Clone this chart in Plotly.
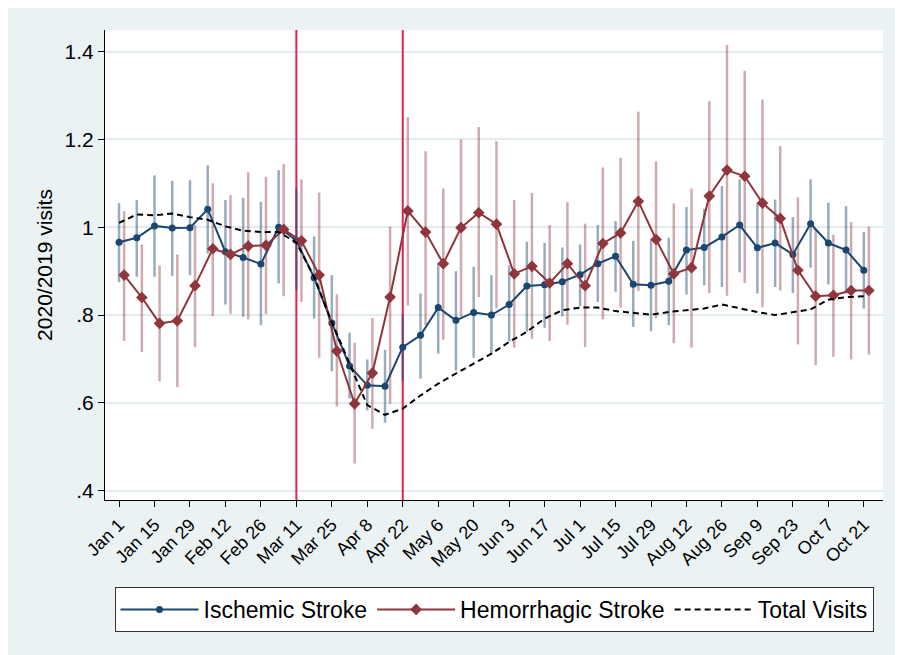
import pandas as pd
import plotly.graph_objects as go

# ---------------- data ----------------
WEEK_START = "2020-01-01"
N_WEEKS = 43
weeks = pd.date_range(WEEK_START, periods=N_WEEKS, freq="7D")
hem_shift = pd.Timedelta(days=2)  # hemorrhagic series drawn slightly offset

tick_labels = ["Jan 1", "Jan 15", "Jan 29", "Feb 12", "Feb 26", "Mar 11", "Mar 25",
               "Apr 8", "Apr 22", "May 6", "May 20", "Jun 3", "Jun 17", "Jul 1",
               "Jul 15", "Jul 29", "Aug 12", "Aug 26", "Sep 9", "Sep 23", "Oct 7", "Oct 21"]
tick_dates = weeks[::2]

event_dates = ["2020-03-11", "2020-04-22"]

ischemic = [0.966, 0.976, 1.003, 0.998, 0.999, 1.041, 0.944, 0.931, 0.916, 1.000,
            0.970, 0.885, 0.782, 0.684, 0.640, 0.638, 0.727, 0.754, 0.817, 0.788,
            0.806, 0.800, 0.824, 0.866, 0.869, 0.876, 0.892, 0.917, 0.934, 0.870,
            0.868, 0.877, 0.948, 0.954, 0.978, 1.005, 0.953, 0.964, 0.938, 1.008,
            0.964, 0.948, 0.902]
ischemic_lo = [0.875, 0.887, 0.887, 0.889, 0.891, 0.940, 0.824, 0.796, 0.777, 0.872,
               0.857, 0.792, 0.672, 0.610, 0.583, 0.555, 0.650, 0.655, 0.712, 0.674,
               0.703, 0.712, 0.740, 0.762, 0.771, 0.797, 0.820, 0.830, 0.853, 0.773,
               0.763, 0.777, 0.847, 0.868, 0.864, 0.897, 0.849, 0.864, 0.850, 0.908,
               0.870, 0.849, 0.815]
ischemic_hi = [1.055, 1.062, 1.118, 1.106, 1.107, 1.141, 1.062, 1.067, 1.058, 1.130,
               1.088, 0.979, 0.891, 0.760, 0.699, 0.721, 0.803, 0.849, 0.919, 0.900,
               0.910, 0.891, 0.913, 0.967, 0.964, 0.954, 0.961, 1.005, 1.014, 0.969,
               0.972, 0.976, 1.046, 1.042, 1.094, 1.109, 1.055, 1.063, 1.023, 1.109,
               1.056, 1.048, 0.989]

hemorrhagic = [0.891, 0.840, 0.781, 0.787, 0.867, 0.951, 0.938, 0.957, 0.959, 0.995,
               0.969, 0.891, 0.718, 0.598, 0.668, 0.841, 1.037, 0.989, 0.917, 0.999,
               1.033, 1.007, 0.894, 0.911, 0.873, 0.917, 0.867, 0.963, 0.987, 1.059,
               0.972, 0.894, 0.908, 1.071, 1.130, 1.116, 1.055, 1.020, 0.902, 0.843,
               0.845, 0.856, 0.856]
hemorrhagic_lo = [0.741, 0.716, 0.649, 0.636, 0.727, 0.797, 0.803, 0.790, 0.802, 0.843,
                  0.830, 0.703, 0.592, 0.462, 0.541, 0.598, 0.822, 0.777, 0.744, 0.796,
                  0.841, 0.815, 0.726, 0.746, 0.741, 0.778, 0.727, 0.790, 0.817, 0.855,
                  0.793, 0.736, 0.726, 0.850, 0.844, 0.873, 0.818, 0.856, 0.733, 0.686,
                  0.705, 0.699, 0.710]
hemorrhagic_hi = [1.037, 0.961, 0.913, 0.938, 1.005, 1.100, 1.073, 1.125, 1.115, 1.144,
                  1.109, 1.079, 0.847, 0.737, 0.793, 1.001, 1.251, 1.173, 1.088, 1.200,
                  1.228, 1.196, 1.062, 1.078, 1.005, 1.057, 1.008, 1.136, 1.158, 1.263,
                  1.150, 1.054, 1.088, 1.287, 1.415, 1.356, 1.291, 1.185, 1.068, 0.997,
                  0.983, 1.012, 1.001]

total_visits = [1.010, 1.029, 1.027, 1.031, 1.023, 1.017, 1.002, 0.992, 0.989, 0.989,
                0.965, 0.887, 0.784, 0.690, 0.595, 0.573, 0.587, 0.617, 0.644, 0.667,
                0.690, 0.712, 0.739, 0.762, 0.792, 0.811, 0.817, 0.817, 0.809, 0.805,
                0.801, 0.807, 0.811, 0.815, 0.824, 0.815, 0.807, 0.800, 0.807, 0.813,
                0.835, 0.841, 0.843]

y_tickvals = [0.4, 0.6, 0.8, 1.0, 1.2, 1.4]
y_ticktext = [".4", ".6", ".8", "1", "1.2", "1.4"]

# ---------------- styles ----------------
FONT = "Liberation Sans, Arial, sans-serif"
BLUE = "#1a476f"
RED = "#90353b"
BLUE_CI = "rgba(26,71,111,0.45)"
RED_CI = "rgba(144,53,59,0.42)"
VLINE = "#e3204e"
BG = "#eaf2f3"
Y_RANGE = [0.379, 1.449]
X_RANGE = ["2019-12-26 11:00", "2020-10-28 14:00"]

hem_x = weeks + hem_shift


def ci_trace(x, y, lo, hi, color):
    return go.Scatter(
        x=x, y=y, mode="markers",
        marker=dict(size=1, opacity=0),
        error_y=dict(type="data", symmetric=False,
                     array=[h - v for h, v in zip(hi, y)],
                     arrayminus=[v - l for v, l in zip(y, lo)],
                     width=0, thickness=2.5, color=color),
        showlegend=False, hoverinfo="skip")


fig = go.Figure()
fig.add_trace(ci_trace(weeks, ischemic, ischemic_lo, ischemic_hi, BLUE_CI))
fig.add_trace(ci_trace(hem_x, hemorrhagic, hemorrhagic_lo, hemorrhagic_hi, RED_CI))

fig.add_trace(go.Scatter(
    x=weeks, y=ischemic, mode="lines+markers", name="Ischemic Stroke",
    line=dict(color=BLUE, width=2),
    marker=dict(symbol="circle", size=7, color=BLUE)))
fig.add_trace(go.Scatter(
    x=hem_x, y=hemorrhagic, mode="lines+markers", name="Hemorrhagic Stroke",
    line=dict(color=RED, width=2),
    marker=dict(symbol="diamond", size=9, color=RED)))
fig.add_trace(go.Scatter(
    x=weeks, y=total_visits, mode="lines", name="Total Visits",
    line=dict(color="black", width=2, dash="6px,4px")))

shapes = []
for d in event_dates:
    shapes.append(dict(type="line", xref="x", yref="y", x0=d, x1=d,
                       y0=Y_RANGE[0], y1=Y_RANGE[1],
                       line=dict(color=VLINE, width=2), layer="between"))

fig.update_layout(
    width=903, height=655,
    margin=dict(l=97, r=28, t=22, b=163),
    paper_bgcolor=BG, plot_bgcolor="white",
    font=dict(family=FONT, color="black"),
    shapes=shapes,
    showlegend=True,
    legend=dict(orientation="h", x=0.5, xanchor="center", y=-0.185, yanchor="top",
                bgcolor="white", bordercolor="#333333", borderwidth=1,
                font=dict(family=FONT, size=23, color="black"),
                itemwidth=78, tracegroupgap=0),
    xaxis=dict(type="date", range=X_RANGE,
               tickmode="array", tickvals=list(tick_dates), ticktext=tick_labels,
               tickangle=-45, ticks="outside", ticklen=6, tickwidth=1.2,
               tickcolor="black", showline=True, linecolor="black", linewidth=1.2,
               showgrid=False, zeroline=False,
               tickfont=dict(family=FONT, size=18, color="black")),
    yaxis=dict(range=Y_RANGE, tickmode="array", tickvals=y_tickvals, ticktext=y_ticktext,
               ticks="outside", ticklen=6, tickwidth=1.2, tickcolor="black",
               showline=True, linecolor="black", linewidth=1.2,
               showgrid=True, gridcolor="#e2ebee", gridwidth=1.5, zeroline=False,
               tickfont=dict(family=FONT, size=21, color="black"),
               title=dict(text="2020/2019 visits", standoff=6,
                          font=dict(family=FONT, size=21, color="black"))),
)

fig.write_html("out.html")
